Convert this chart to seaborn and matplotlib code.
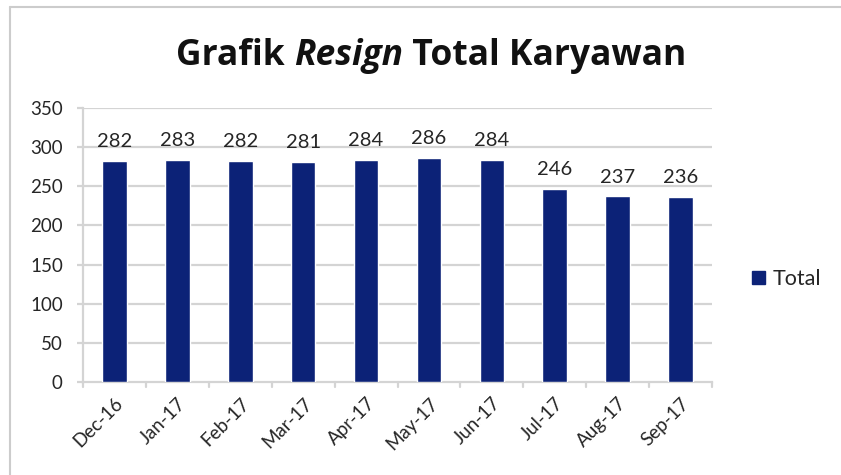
import matplotlib
matplotlib.use("Agg")
import matplotlib.pyplot as plt
import seaborn as sns
import pandas as pd
from matplotlib.lines import Line2D
from matplotlib.patches import Patch

# data
months = ["Dec-16", "Jan-17", "Feb-17", "Mar-17", "Apr-17",
          "May-17", "Jun-17", "Jul-17", "Aug-17", "Sep-17"]
totals = [282, 283, 282, 281, 284, 286, 284, 246, 237, 236]
y_ticks = [0, 50, 100, 150, 200, 250, 300, 350]

df = pd.DataFrame({"month": months, "total": totals})

sns.set_theme(style="white")
plt.rcParams["font.family"] = ["Lato", "DejaVu Sans"]

bar_color = "#0c2277"
grid_color = "#d4d4d4"
text_color = "#262626"

fig = plt.figure(figsize=(8.41, 4.75), dpi=100)
ax = fig.add_axes([83 / 841, (475 - 382) / 475, (712 - 83) / 841, (382 - 108) / 475])

sns.barplot(data=df, x="month", y="total", color=bar_color, width=0.39,
            saturation=1, ax=ax, zorder=3)

ax.set_ylim(0, 350)
ax.set_xlim(-0.5, len(months) - 0.5)
ax.set_yticks(y_ticks)
ax.set_xlabel("")
ax.set_ylabel("")
for y in y_ticks[1:]:
    ax.axhline(y, color=grid_color, lw=1.6, zorder=1)

for s in ["top", "right"]:
    ax.spines[s].set_visible(False)
for s in ["left", "bottom"]:
    ax.spines[s].set_color(grid_color)
    ax.spines[s].set_linewidth(1.6)

ax.tick_params(axis="y", length=4.5, width=1.6, color=grid_color,
               labelsize=13.5, labelcolor=text_color, pad=10, left=True)
ax.set_xticks(range(len(months)))
ax.set_xticklabels(months, rotation=45, ha="right", rotation_mode="anchor",
                   fontsize=13.5, color=text_color)
ax.tick_params(axis="x", length=0, pad=9)
# category boundary ticks
for i in range(len(months) + 1):
    ax.plot([i - 0.5, i - 0.5], [0, -7], color=grid_color, lw=1.6,
            clip_on=False, transform=ax.transData, zorder=2)
ax.set_ylim(0, 350)

for i, v in enumerate(totals):
    ax.text(i, v + 14, str(v), ha="center", va="bottom",
            fontsize=14.5, color=text_color)

# title with italic word
title_parts = [("Grafik ", "normal"), ("Resign", "italic"), (" Total Karyawan", "normal")]
renderer = fig.canvas.get_renderer()
texts = []
widths = []
for word, style in title_parts:
    t = fig.text(0, 0, word, fontsize=25.5, fontweight="bold", style=style,
                 family=["Open Sans", "DejaVu Sans"], color="#111111", va="center")
    widths.append(t.get_window_extent(renderer).width)
    texts.append(t)
x0 = 431 - sum(widths) / 2
for t, w in zip(texts, widths):
    t.set_position((x0 / 841, 1 - 56 / 475))
    x0 += w

# legend
fig.legend(handles=[Patch(color=bar_color, label="Total")],
           loc="center left", bbox_to_anchor=(733 / 841, 1 - 279 / 475),
           frameon=False, fontsize=15.5, handlelength=0.6, handleheight=0.6,
           handletextpad=0.35, labelcolor=text_color)

# chart area border
fig.add_artist(Line2D([10 / 841, 10 / 841], [0, 1 - 7 / 475],
                      color="#cccccc", lw=1.5, transform=fig.transFigure))
fig.add_artist(Line2D([10 / 841, 1], [1 - 7 / 475, 1 - 7 / 475],
                      color="#cccccc", lw=1.5, transform=fig.transFigure))

fig.savefig("out.png", dpi=100)
